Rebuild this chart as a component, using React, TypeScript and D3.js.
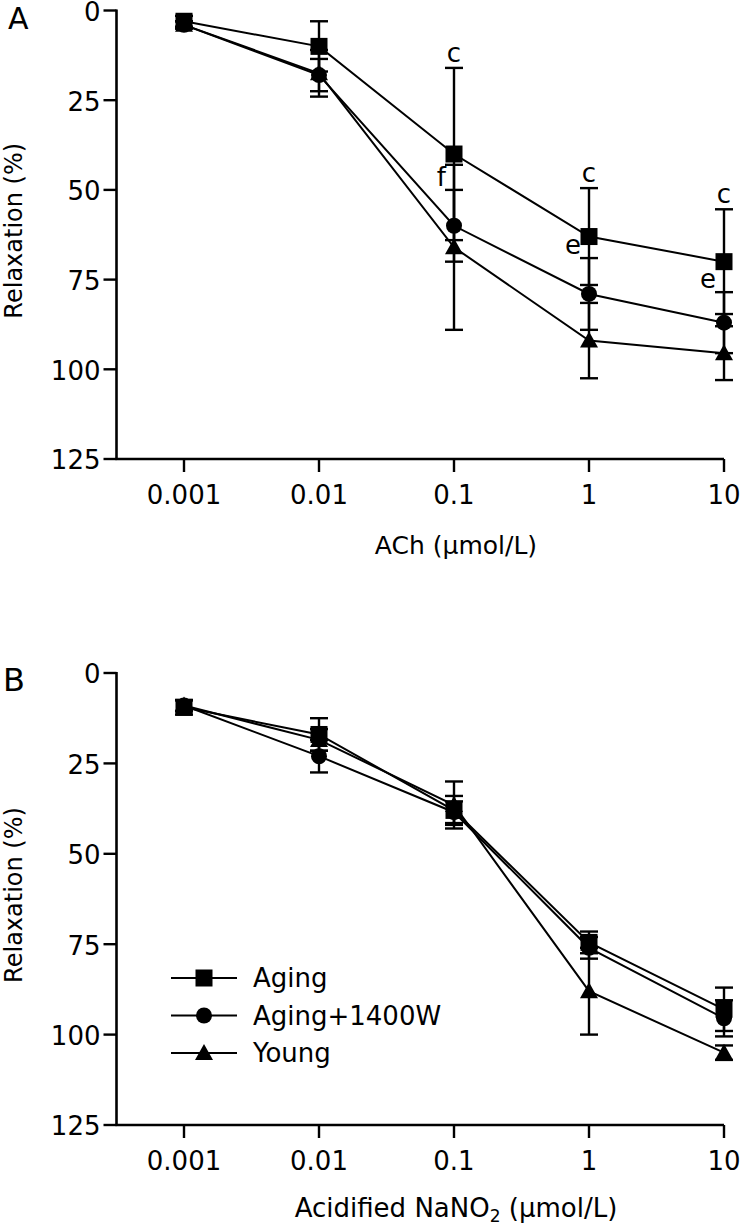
import React from "react";
import * as d3 from "d3";

// ---- data ----
const doseTicks = [0.001, 0.01, 0.1, 1, 10];
const doseTickLabels = ["0.001", "0.01", "0.1", "1", "10"];
const yTicks = [0, 25, 50, 75, 100, 125];
const seriesNames = ["Aging", "Aging+1400W", "Young"];
const seriesMarkers = ["square", "circle", "triangle"];

// Panel A: ACh
const achAging = [3, 10, 40, 63, 70];
const achAgingErr = [1.5, 7, 24, 13.5, 14.6];
const achW = [4, 18, 60, 79, 87];
const achWErr = [1, 4.5, 10, 10, 8.5];
const achYoung = [4, 17.5, 66, 92, 95.5];
const achYoungErr = [1, 6.5, 23, 10.5, 7.5];

// Panel B: acidified NaNO2
const nitAging = [9.5, 17, 38, 74.5, 93];
const nitAgingErr = [2, 4.5, 4, 3, 6];
const nitW = [9, 23, 38.5, 76, 95.5];
const nitWErr = [1.5, 4.5, 3, 3, 5];
const nitYoung = [9, 18.5, 36.5, 88, 105];
const nitYoungErr = [1.5, 3, 6.5, 12, 2];

// significance letters in panel A: [series index, dose index, letter]
const achLetters: [number, number, string][] = [
  [0, 2, "c"],
  [0, 3, "c"],
  [0, 4, "c"],
  [1, 2, "f"],
  [1, 3, "e"],
  [1, 4, "e"],
];

const FONT = "'DejaVu Sans', sans-serif";

function Marker({ type, x, y }: { type: string; x: number; y: number }) {
  if (type === "square") return <rect x={x - 8.5} y={y - 8.5} width={17} height={17} fill="#000" />;
  if (type === "circle") return <circle cx={x} cy={y} r={8} fill="#000" />;
  const p = d3.path();
  p.moveTo(x, y - 9);
  p.lineTo(x + 9, y + 7);
  p.lineTo(x - 9, y + 7);
  p.closePath();
  return <path d={p.toString()} fill="#000" />;
}

interface PanelProps {
  top: number;
  bottom: number;
  label: string;
  labelSize: number;
  xTitle: React.ReactNode;
  titleSize: number;
  titleGap: number;
  values: number[][];
  errors: number[][];
  letters?: [number, number, string][];
  legend?: boolean;
}

function Panel({ top, bottom, label, labelSize, xTitle, titleSize, titleGap, values, errors, letters, legend }: PanelProps) {
  const left = 116.5;
  const x = d3.scaleLog().domain([Math.pow(10, -3.5), 10]).range([left, 724]);
  const y = d3.scaleLinear().domain([0, 125]).range([top, bottom]);
  const line = d3
    .line<number>()
    .x((_, i) => x(doseTicks[i]))
    .y((d) => y(d));
  const capW = 9;
  const sw = 2.4;

  return (
    <g>
      <text x={label === "A" ? 8 : 3} y={top + 18} fontSize={labelSize} fontFamily={FONT}>
        {label}
      </text>
      {/* axes */}
      <line x1={left} x2={left} y1={top - 1} y2={bottom} stroke="#000" strokeWidth={2.6} />
      <line x1={left - 1} x2={724} y1={bottom} y2={bottom} stroke="#000" strokeWidth={2.6} />
      {yTicks.map((t) => (
        <g key={"y" + t}>
          <line x1={left - 13} x2={left} y1={y(t)} y2={y(t)} stroke="#000" strokeWidth={2.4} />
          <text x={left - 16} y={y(t)} dy="0.4em" textAnchor="end" fontSize={26} fontFamily={FONT}>
            {t}
          </text>
        </g>
      ))}
      {doseTicks.map((t, i) => (
        <g key={"x" + t}>
          <line x1={x(t)} x2={x(t)} y1={bottom} y2={bottom + 13} stroke="#000" strokeWidth={2.4} />
          <text x={x(t)} y={bottom + 45} textAnchor="middle" fontSize={26} fontFamily={FONT}>
            {doseTickLabels[i]}
          </text>
        </g>
      ))}
      <text
        transform={`translate(22,${(top + bottom) / 2 - 4}) rotate(-90)`}
        textAnchor="middle"
        fontSize={24}
        fontFamily={FONT}
      >
        Relaxation (%)
      </text>
      <text x={456} y={bottom + titleGap} textAnchor="middle" fontSize={titleSize} fontFamily={FONT}>
        {xTitle}
      </text>
      {/* error bars */}
      {values.map((vals, s) =>
        vals.map((v, i) => {
          const e = errors[s][i];
          const cx = x(doseTicks[i]);
          return (
            <g key={`e${s}-${i}`} stroke="#000" strokeWidth={sw}>
              <line x1={cx} x2={cx} y1={y(v - e)} y2={y(v + e)} />
              <line x1={cx - capW} x2={cx + capW} y1={y(v - e)} y2={y(v - e)} />
              <line x1={cx - capW} x2={cx + capW} y1={y(v + e)} y2={y(v + e)} />
            </g>
          );
        })
      )}
      {/* lines */}
      {values.map((vals, s) => (
        <path key={"l" + s} d={line(vals) || ""} fill="none" stroke="#000" strokeWidth={2} />
      ))}
      {/* markers */}
      {values.map((vals, s) =>
        vals.map((v, i) => <Marker key={`m${s}-${i}`} type={seriesMarkers[s]} x={x(doseTicks[i])} y={y(v)} />)
      )}
      {/* letters */}
      {letters &&
        letters.map(([s, i, txt], k) => {
          const cx = x(doseTicks[i]);
          const capY = y(values[s][i] - errors[s][i]);
          if (s === 0)
            return (
              <text key={"t" + k} x={cx} y={capY - 6} textAnchor="middle" fontSize={26} fontFamily={FONT}>
                {txt}
              </text>
            );
          return (
            <text key={"t" + k} x={cx - 8} y={capY - 4} textAnchor="end" fontSize={26} fontFamily={FONT}>
              {txt}
            </text>
          );
        })}
      {/* legend */}
      {legend &&
        seriesNames.map((n, s) => {
          const ly = 978 + s * 37.5;
          return (
            <g key={"lg" + s}>
              <line x1={171} x2={237} y1={ly} y2={ly} stroke="#000" strokeWidth={2} />
              <Marker type={seriesMarkers[s]} x={204} y={ly} />
              <text x={253} y={ly} dy="0.36em" fontSize={26} fontFamily={FONT}>
                {n}
              </text>
            </g>
          );
        })}
    </g>
  );
}

export default function App() {
  return (
    <svg
      width={740}
      height={1227}
      style={{ position: "absolute", left: 0, top: 0, background: "#fff" }}
    >
      <rect width={740} height={1227} fill="#fff" />
      <Panel
        top={10.5}
        bottom={459}
        label="A"
        labelSize={30}
        xTitle="ACh (μmol/L)"
        titleSize={25}
        titleGap={95}
        values={[achAging, achW, achYoung]}
        errors={[achAgingErr, achWErr, achYoungErr]}
        letters={achLetters}
      />
      <Panel
        top={673}
        bottom={1125}
        label="B"
        labelSize={32}
        titleSize={26}
        titleGap={92}
        xTitle={
          <>
            Acidified NaNO
            <tspan fontSize={17} dy={5}>
              2
            </tspan>
            <tspan dy={-5}> (μmol/L)</tspan>
          </>
        }
        values={[nitAging, nitW, nitYoung]}
        errors={[nitAgingErr, nitWErr, nitYoungErr]}
        legend
      />
    </svg>
  );
}
